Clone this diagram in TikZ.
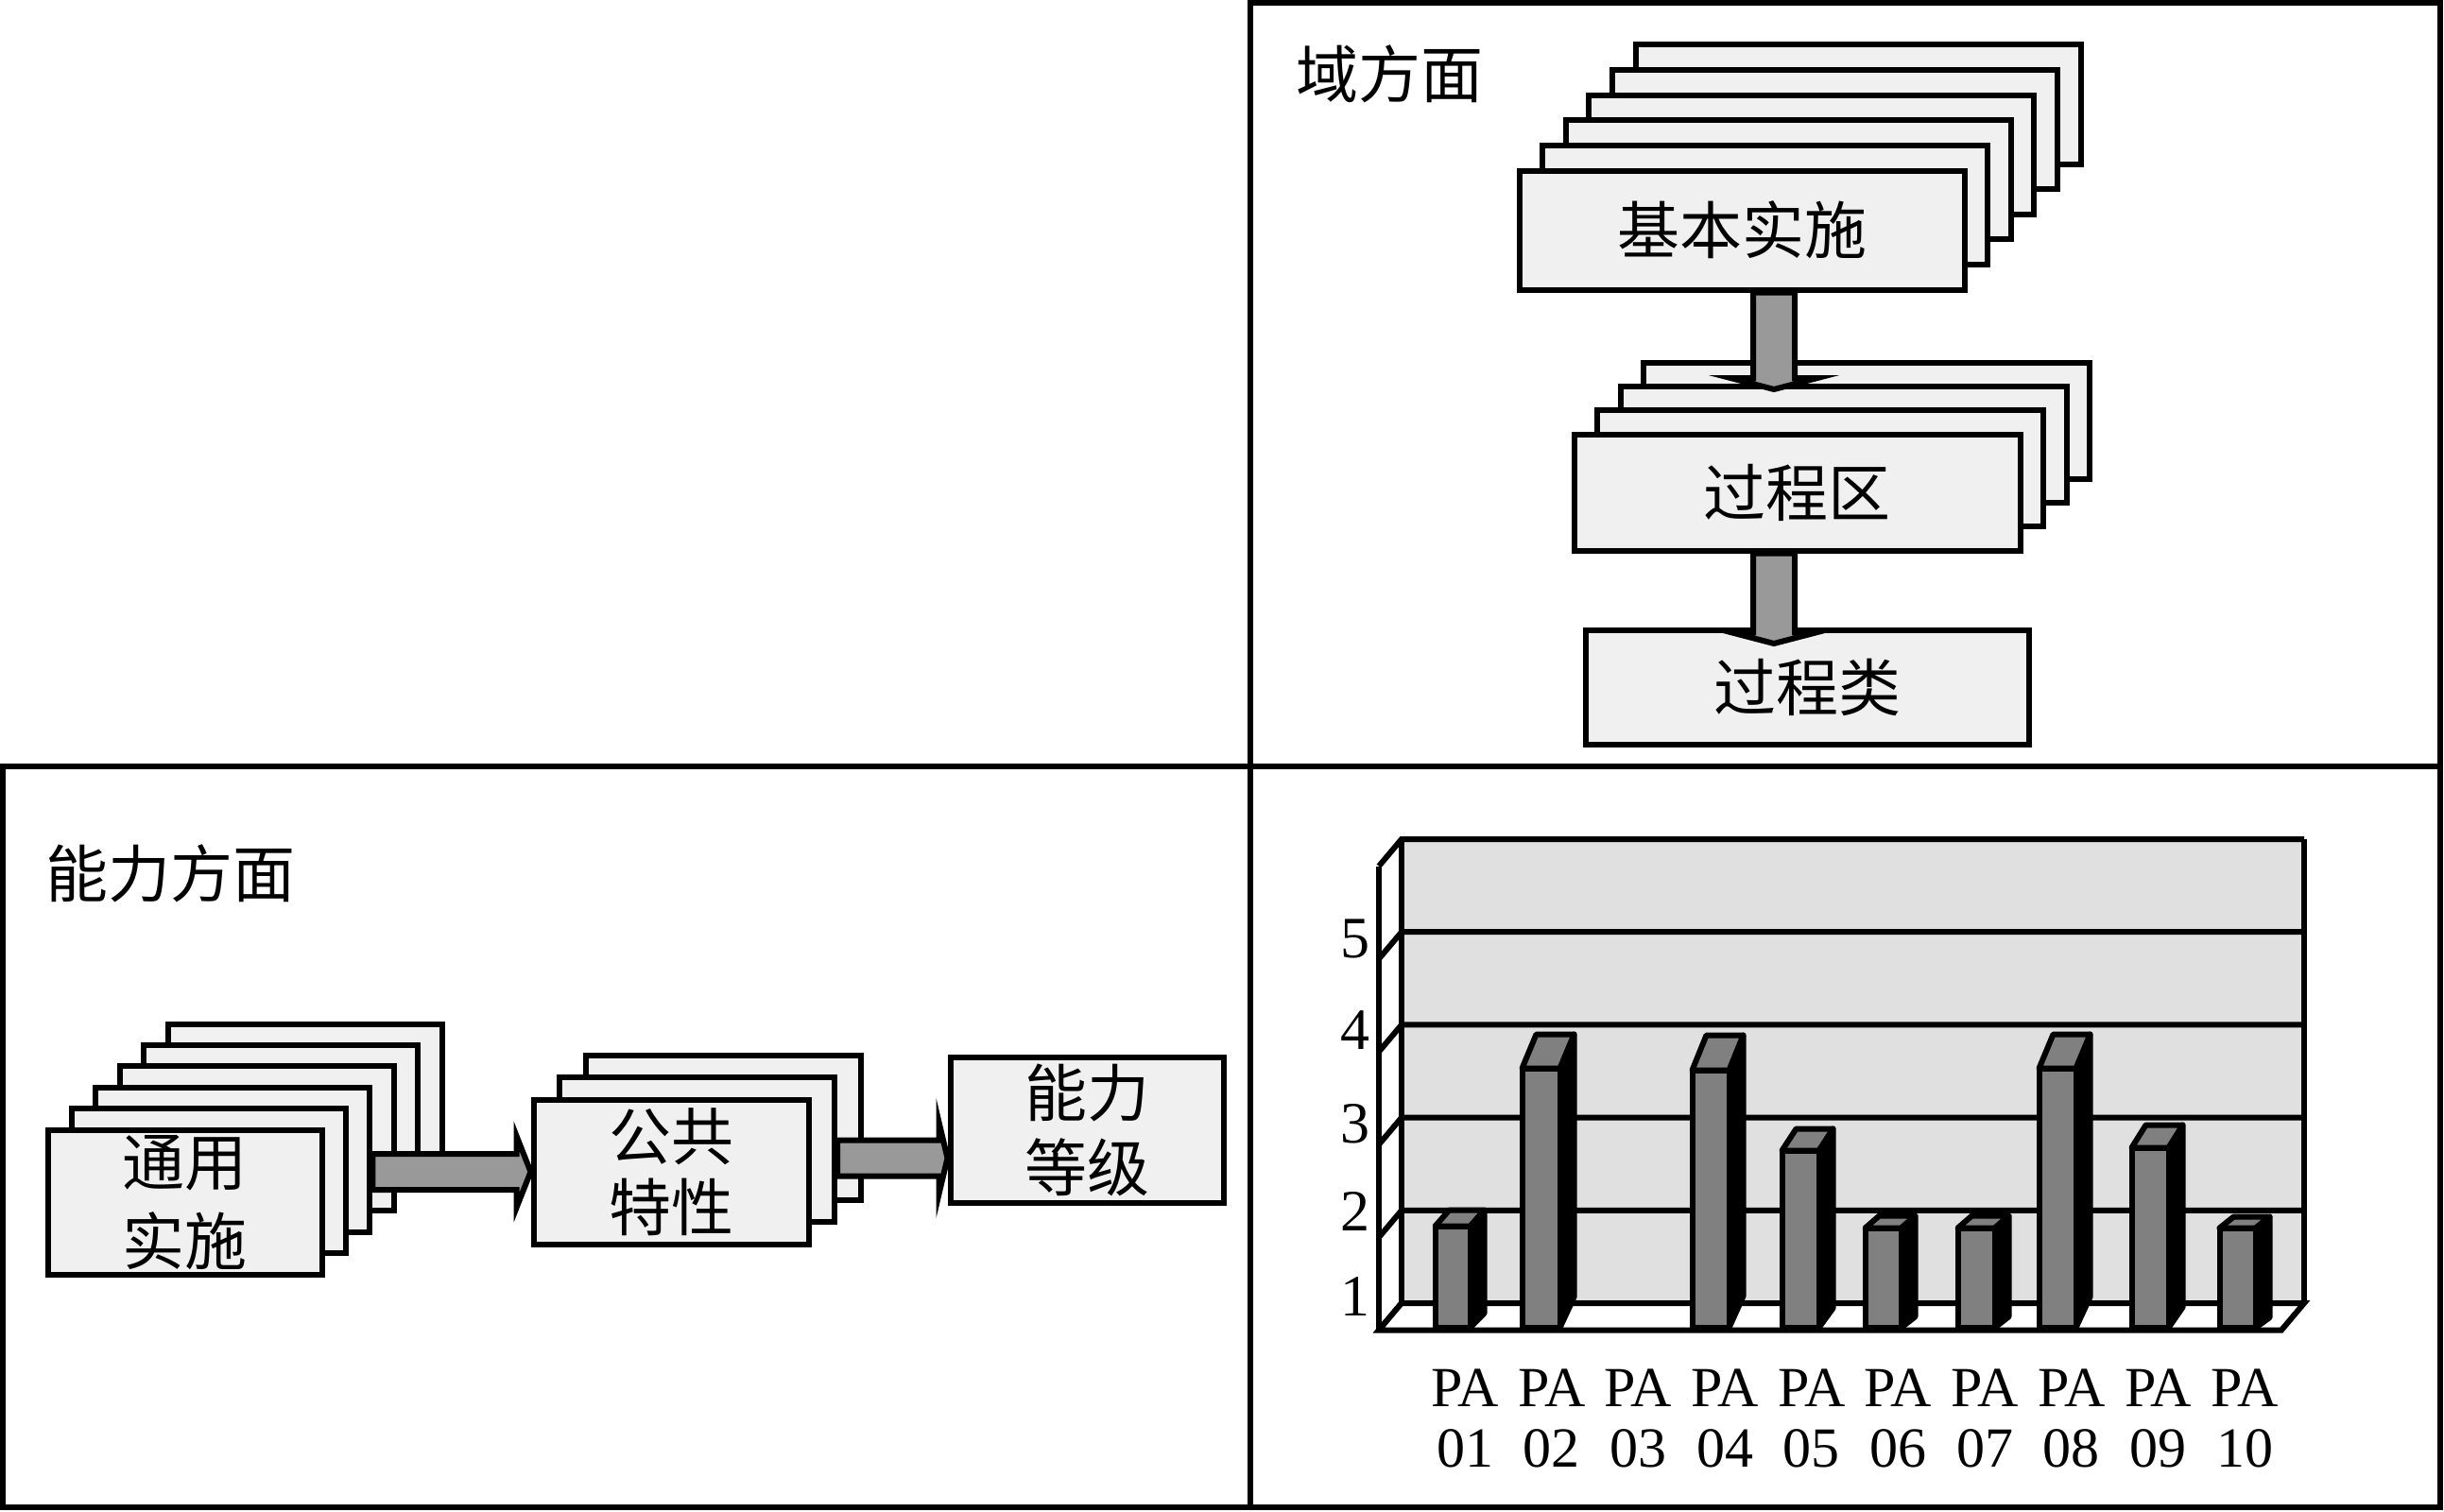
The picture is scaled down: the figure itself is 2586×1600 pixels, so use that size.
\documentclass[tikz,border=0pt]{standalone}
\usepackage{fontspec}
\setmainfont{Liberation Serif}
\newfontfamily\cjk{Noto Sans CJK SC}
\usetikzlibrary{calc}
\newcommand\vblockarrow[5]{%
  \draw[blockarrow] ($(#1)+(-#3,0)$) -- ($(#2)+(-#3,-#5)$) -- ($(#2)+(-#4,-#5)$) -- (#2)
    -- ($(#2)+(#4,-#5)$) -- ($(#2)+(#3,-#5)$) -- ($(#1)+(#3,0)$) -- cycle;}
\newcommand\hblockarrow[5]{%
  \draw[blockarrow] ($(#1)+(0,-#3)$) -- ($(#2)+(-#5,-#3)$) -- ($(#2)+(-#5,-#4)$) -- (#2)
    -- ($(#2)+(-#5,#4)$) -- ($(#2)+(-#5,#3)$) -- ($(#1)+(0,#3)$) -- cycle;}
\begin{document}
\begin{tikzpicture}[x=1pt,y=-1pt,
  panel/.style={line width=6.5pt,line join=miter},
  box/.style={draw,line width=6pt,fill=black!6,inner sep=0pt,align=center,
    font=\cjk\fontsize{66}{80}\selectfont},
  blockarrow/.style={draw,line width=6pt,fill=black!40,line join=miter},
  cjktitle/.style={font=\cjk\fontsize{66}{80}\selectfont,inner sep=0pt},
  wall/.style={draw,line width=6pt,line join=miter},
  gridline/.style={line width=6pt},
  barface/.style={draw,line width=6pt,fill=black!50,line join=round},
  barside/.style={draw,line width=6pt,fill=black,line join=round},
  axlab/.style={font=\fontsize{62}{64}\selectfont,inner sep=0pt},
  xlab/.style={font=\fontsize{60}{64}\selectfont,inner sep=0pt,align=center}
]
\useasboundingbox (0,0) rectangle (2586,1600);

% panels
\draw[panel] (1323,811) -- (1323,3) -- (2582,3) -- (2582,1595) -- (3,1595) -- (3,811) -- cycle;
\draw[panel] (1323,811) -- (1323,1595);
\draw[panel] (1323,811) -- (2582,811);

% ---------- top right: domain aspect ----------
\node[cjktitle] (tdom) at (1470,78) {域方面};

\foreach \k in {5,4,...,1}
  \node[box,minimum width=471,minimum height=126] (jb\k) at ({1843+24.6*\k},{243.5-26.6*\k}) {};
\node[box,minimum width=471,minimum height=126] (jb) at (1843,243.5) {基本实施};

\foreach \k in {3,2,1}
  \node[box,minimum width=472,minimum height=123] (gq\k) at ({1901.5+24.6*\k},{521-25.3*\k}) {};
\node[box,minimum width=472,minimum height=123] (gq) at (1901.5,521) {过程区};

\node[box,minimum width=469,minimum height=121] (lb) at (1912,727) {过程类};

\coordinate (v1t) at (1877,412);
\coordinate (v1s) at (v1t |- jb.south);
\vblockarrow{v1s}{v1t}{22}{46}{12}
\coordinate (v2t) at (1877,681);
\coordinate (v2s) at (v2t |- gq.south);
\vblockarrow{v2s}{v2t}{22}{46}{12}

% ---------- bottom left: capability aspect ----------
\node[cjktitle] (tcap) at (180,924) {能力方面};

\foreach \k in {5,4,...,1}
  \node[box,minimum width=290,minimum height=153] (ty\k) at ({195.5+25.4*\k},{1272-22.4*\k}) {};
\node[box,minimum width=290,minimum height=153,font=\cjk\fontsize{66}{84}\selectfont] (ty) at (195.5,1272) {通用\\实施};

\foreach \k in {2,1}
  \node[box,minimum width=291,minimum height=153] (gt\k) at ({710+27.6*\k},{1240-23.5*\k}) {};
\node[box,minimum width=291,minimum height=153,font=\cjk\fontsize{66}{75}\selectfont] (gt) at (710,1240) {公共\\特性};

\node[box,minimum width=289,minimum height=154,font=\cjk\fontsize{66}{79}\selectfont] (nl) at (1150,1195.5) {能力\\等级};

\coordinate (h1t) at (gt.west);
\coordinate (h1s) at (ty2.east |- h1t);
\hblockarrow{h1s}{h1t}{19}{38}{15}
\coordinate (h2t) at ($(nl.west)+(0,30)$);
\coordinate (h2s) at (gt1.east |- h2t);
\hblockarrow{h2s}{h2t}{19}{38}{9}

% ---------- bottom right: 3D bar chart ----------
\fill[black!12] (1483,888) rectangle (2438,1379);
\fill[white] (1483,888) -- (1459,916.5) -- (1459,1407.5) -- (1483,1379) -- cycle;
\foreach \y in {888,986.2,1084.4,1182.6,1280.8,1379}
  \draw[gridline] (2438,\y) -- (1483,\y) -- (1459,{\y+28.5});
\draw[wall] (1459,916.5) -- (1459,1407.5);
\draw[wall] (1483,888) -- (1483,1379);
\draw[wall] (2438,888) -- (2438,1379);
\filldraw[wall,fill=white] (1483,1379) -- (2438,1379) -- (2414,1407.5) -- (1459,1407.5) -- cycle;

\foreach \L/\R/\T/\D in {1518.5/1555.5/1297.5/17, 1610.5/1650.5/1130.5/36,
    1790.5/1829.5/1132.5/37, 1885.5/1924.5/1217.5/23, 1973.5/2011.5/1299.5/13,
    2071.5/2110.5/1299.5/13, 2157.5/2196.5/1130.5/36, 2255.5/2294.5/1214.5/24,
    2348.5/2386.5/1299.5/12} {
  \filldraw[barside] (\R,\T) -- ({\R+15},{\T-\D}) -- ({\R+15},{1405-0.9*\D}) -- (\R,1405) -- cycle;
  \filldraw[barface] (\L,\T) -- ({\L+15},{\T-\D}) -- ({\R+15},{\T-\D}) -- (\R,\T) -- cycle;
  \filldraw[barface] (\L,1405) -- (\L,\T) -- (\R,\T) -- (\R,1405) -- cycle;
}

\node[axlab] (y5) at (1434,993) {5};
\node[axlab] (y4) at (1434,1090) {4};
\node[axlab] (y3) at (1434,1189) {3};
\node[axlab] (y2) at (1434,1282) {2};
\node[axlab] (y1) at (1434,1372) {1};

\foreach \i/\n in {0/01,1/02,2/03,3/04,4/05,5/06,6/07,7/08,8/09,9/10}
  \node[xlab] (x\n) at ({1550+91.7*\i},1501) {PA\\\n};

\end{tikzpicture}
\end{document}
